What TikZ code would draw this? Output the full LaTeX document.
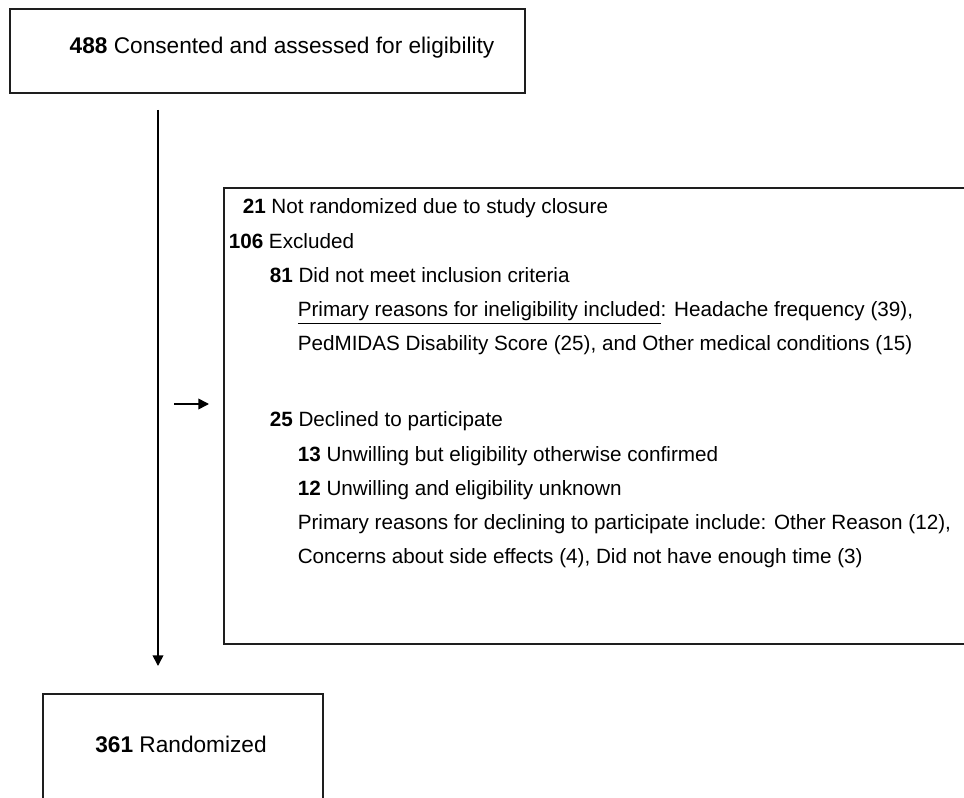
\documentclass[tikz,border=0pt]{standalone}
\usepackage{fontspec}
\setmainfont{Liberation Sans}
\usetikzlibrary{arrows.meta}

\tikzset{every picture/.style={line width=1.15pt}}
\tikzset{
  flowbox/.style={draw, rectangle, inner sep=0pt, color={rgb,255:red,30;green,30;blue,30}},
  flowtext/.style={anchor=base west, inner sep=0pt, font=\fontsize{15.5}{19}\selectfont},
  midtext/.style={anchor=base, inner sep=0pt, font=\fontsize{17}{20}\selectfont},
  flowarrow/.style={-{Triangle[length=8pt,width=8pt]}, line width=1.2pt}
}

\begin{document}
\begin{tikzpicture}[x=0.75pt,y=0.75pt,yscale=-1,xscale=1]
\useasboundingbox (0,0) rectangle (964,798);
\clip (0,0) rectangle (964,798);

%Shape: Rectangle
\draw (9,8) node (consentbox) [flowbox, anchor=north west, minimum width=386.25pt, minimum height=63pt] {};
%Shape: Rectangle
\draw (223,187) node (exclbox) [flowbox, anchor=north west, minimum width=600pt, minimum height=342pt] {};
%Shape: Rectangle
\draw (42,693) node (randbox) [flowbox, anchor=north west, minimum width=210pt, minimum height=120pt] {};

%Straight Lines
\coordinate (spinetop) at (158,110);
\coordinate (spinebot) at (158,666);
\draw [flowarrow] (spinetop) -- (spinebot);
%Straight Lines
\coordinate (sidefrom) at (174,404);
\coordinate (sideto) at (209,404);
\draw [flowarrow] (sidefrom) -- (sideto);

% Text Node
\draw (282,54) node (consented) [midtext] {\textbf{488} Consented and assessed for eligibility};
% Text Node
\draw (181,752) node (randomized) [midtext] {\textbf{361} Randomized};

% Text Node
\draw (242,214) node (closure) [flowtext] {\textbf{21} Not randomized due to study closure};
% Text Node
\draw (228,248.3) node (excluded) [flowtext] {\textbf{106} Excluded};
% Text Node
\draw (269,282.6) node (notmet) [flowtext] {\textbf{81} Did not meet inclusion criteria};
% Text Node
\draw (297,317) node (inelig1) [flowtext] {\underline{Primary reasons for ineligibility included}: Headache frequency (39),};
% Text Node
\draw (297,351) node (inelig2) [flowtext] {PedMIDAS Disability Score (25), and Other medical conditions (15)};
% Text Node
\draw (269,427) node (declined) [flowtext] {\textbf{25} Declined to participate};
% Text Node
\draw (297,461) node (unwilling1) [flowtext] {\textbf{13} Unwilling but eligibility otherwise confirmed};
% Text Node
\draw (297,495) node (unwilling2) [flowtext] {\textbf{12} Unwilling and eligibility unknown};
% Text Node
\draw (297,529) node (decl1) [flowtext] {Primary reasons for declining to participate include: Other Reason (12),};
% Text Node
\draw (297,563) node (decl2) [flowtext] {Concerns about side effects (4), Did not have enough time (3)};

\end{tikzpicture}
\end{document}
